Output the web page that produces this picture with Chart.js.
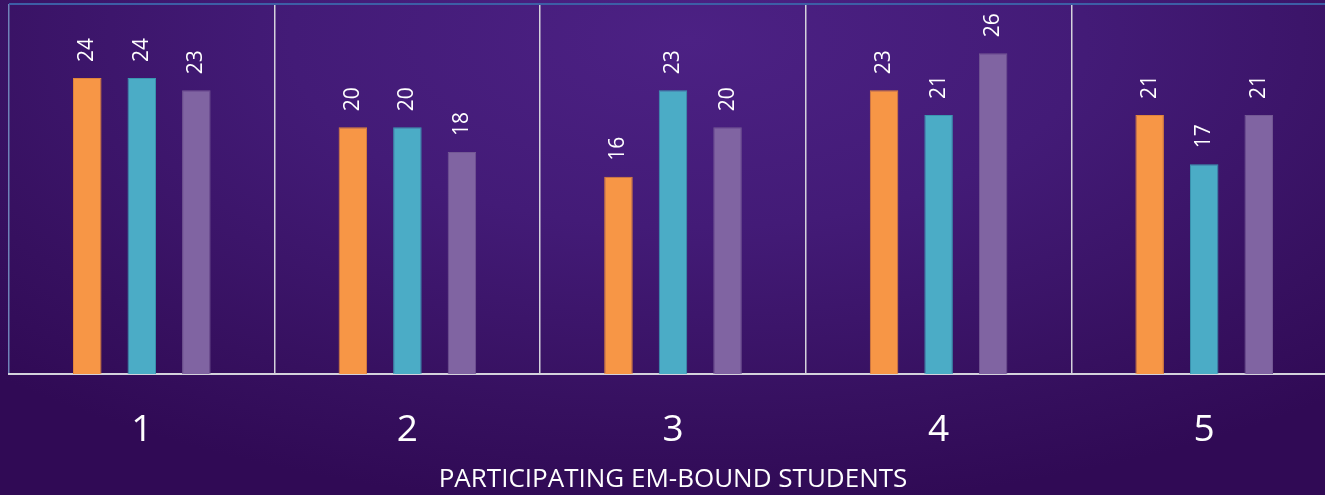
<!DOCTYPE html>
<html>
<head>
<meta charset="utf-8">
<script src="https://cdn.jsdelivr.net/npm/chart.js@4.4.1/dist/chart.umd.min.js"></script>
<style>
  html, body { margin: 0; padding: 0; overflow: hidden; }
  body {
    width: 1325px; height: 495px;
    background: radial-gradient(ellipse 75% 95% at 52% 8%, #4c2184 0%, #431b77 40%, #36105f 80%, #300a55 100%);
  }
  #wrap { position: absolute; left: 0; top: 0; width: 1337px; height: 495px; }
</style>
</head>
<body>
<div id="wrap"><canvas id="emChart"></canvas></div>
<script>
let categories = ["1", "2", "3", "4", "5"];
let seriesA = [24, 20, 16, 23, 21];
let seriesB = [24, 20, 23, 21, 17];
let seriesC = [23, 18, 20, 26, 21];
let yTicks = [0, 30];

// draws the rotated value labels above each bar, plus the top frame line
const valueLabels = {
  id: 'valueLabels',
  afterDatasetsDraw(chart) {
    const ctx = chart.ctx;
    ctx.save();
    ctx.fillStyle = '#ffffff';
    ctx.font = '21px "Open Sans"';
    ctx.textAlign = 'left';
    ctx.textBaseline = 'middle';
    chart.data.datasets.forEach((ds, i) => {
      chart.getDatasetMeta(i).data.forEach((bar, j) => {
        ctx.save();
        ctx.translate(bar.x, bar.y - 16);
        ctx.rotate(-Math.PI / 2);
        ctx.fillText(ds.data[j], 0, 0);
        ctx.restore();
      });
    });
    const a = chart.chartArea;
    ctx.strokeStyle = '#3d5ea6';
    ctx.lineWidth = 2;
    ctx.beginPath();
    ctx.moveTo(a.left, a.top);
    ctx.lineTo(a.right, a.top);
    ctx.stroke();
    ctx.restore();
  }
};

new Chart("emChart", {
  type: 'bar',
  data: {
    labels: categories,
    datasets: [
      { data: seriesA, backgroundColor: '#f79646', borderColor: '#e0843a', borderWidth: 1 },
      { data: seriesB, backgroundColor: '#4bacc6', borderColor: '#3a97b0', borderWidth: 1 },
      { data: seriesC, backgroundColor: '#8064a2', borderColor: '#735894', borderWidth: 1 }
    ]
  },
  options: {
    responsive: true,
    maintainAspectRatio: false,
    animation: false,
    categoryPercentage: 0.616,
    barPercentage: 0.523,
    layout: { padding: { left: 9, top: 4, right: 0, bottom: 0 } },
    plugins: {
      legend: { display: false },
      tooltip: { enabled: false }
    },
    scales: {
      x: {
        afterFit: (scale) => { scale.height = 121; },
        grid: {
          offset: true,
          drawTicks: false,
          color: (c) => c.index === 0 ? '#6f82b8' : '#d4d2dc',
          lineWidth: 1.5
        },
        border: { color: '#d4d2dc', width: 2 },
        ticks: { color: '#ffffff', font: { family: 'Open Sans', size: 37 }, padding: 34 },
        title: {
          display: true,
          text: 'PARTICIPATING EM-BOUND STUDENTS',
          color: '#ffffff',
          font: { family: 'Open Sans', size: 26 },
          padding: { top: 0, bottom: 0 }
        }
      },
      y: {
        display: false,
        min: yTicks[0],
        max: yTicks[1]
      }
    }
  },
  plugins: [valueLabels]
});
</script>
</body>
</html>
